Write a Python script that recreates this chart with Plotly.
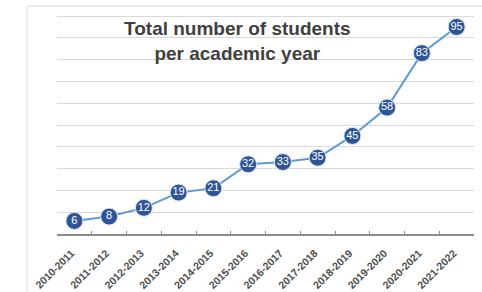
import plotly.graph_objects as go

years = ["2010-2011", "2011-2012", "2012-2013", "2013-2014", "2014-2015", "2015-2016",
         "2016-2017", "2017-2018", "2018-2019", "2019-2020", "2020-2021", "2021-2022"]
students = [6, 8, 12, 19, 21, 32, 33, 35, 45, 58, 83, 95]

fig = go.Figure()
fig.add_trace(go.Scatter(
    x=years, y=students, mode="lines+markers+text",
    text=[str(v) for v in students], textposition="middle center",
    textfont=dict(family="Liberation Sans, Arial", size=11, color="white"),
    line=dict(color="#5B9BD5", width=2),
    marker=dict(size=17, color="#2F5597", line=dict(color="#DDE6F5", width=1)),
    cliponaxis=False, showlegend=False, hoverinfo="skip",
))

fig.update_layout(
    width=482, height=292,
    margin=dict(l=57, r=8, t=15, b=58),
    paper_bgcolor="white", plot_bgcolor="white",
    font=dict(family="Liberation Sans, Arial", color="#595959"),
    annotations=[dict(
        text="<b>Total number of students<br>per academic year</b>",
        xref="paper", yref="paper", x=0.434, y=0.879, xanchor="center", yanchor="middle",
        showarrow=False, font=dict(size=19, color="#404040", family="Liberation Sans, Arial"),
    )],
    shapes=[dict(type="path", xref="paper", yref="paper",
                 path="M -0.072,-0.4 L -0.072,1.041 L 1.1,1.041",
                 line=dict(color="#D9D9D9", width=1))],
)
fig.update_xaxes(
    type="category", range=[-0.5, 11.5], tickangle=-45, automargin=False,
    tickprefix="<b>", ticksuffix="</b>",
    tickfont=dict(size=10.5, color="#4D4D4D", family="Liberation Sans, Arial"),
    ticklabelstandoff=7, ticklabelshift=-3,
    showline=True, linecolor="#8C8C8C", linewidth=2,
    ticks="inside", ticklen=3, tickcolor="#8C8C8C", tickson="boundaries",
    showgrid=False,
)
fig.update_yaxes(
    range=[0, 100.5], tick0=0, dtick=10, showticklabels=False, showgrid=True, automargin=False,
    gridcolor="#D9D9D9", gridwidth=1, zeroline=False, showline=False,
)
fig.write_html("out.html", config={"displayModeBar": False},
               post_script="document.body.style.margin='0';")
